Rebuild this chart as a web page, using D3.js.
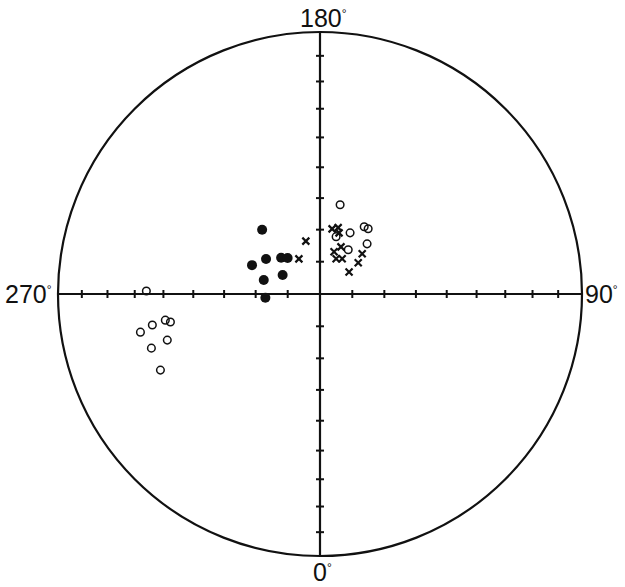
<!DOCTYPE html>
<meta charset="utf-8">
<script src="https://d3js.org/d3.v7.min.js"></script>
<style>
  body { margin: 0; background: #fff; }
  text { font-family: "Liberation Sans", Arial, sans-serif; fill: #111; }
</style>
<div id="my_dataviz"></div>
<script>

  // points as [declination, inclination] in degrees (equal-area net)
  const filledDots = [
    [222, 63], [237, 70], [247, 67], [227, 73.5],
    [222, 75], [256, 72], [243, 77], [274, 73]
  ];
  const crosses = [
    [195, 73], [211, 77.3], [169.5, 69.4], [164.7, 68.6],
    [162.7, 70.1], [156, 74], [161.6, 76.2], [155.4, 78],
    [147.8, 77.1], [133.6, 71.9], [129.2, 74.7], [127.2, 78.7]
  ];
  const openCircles = [
    [167.3, 61.4], [153.8, 68.8], [146.7, 64.9], [143.6, 64.7],
    [136.8, 68.6], [164.3, 71.5], [147.5, 73.7],
    [269, 34.1], [282, 30.6], [280.5, 35.2], [279.6, 39.9],
    [280.6, 41.5], [286.8, 39], [287.8, 32.9], [295.5, 33]
  ];

  const axisDecs = [0, 90, 180, 270];
  const tickIncs = [10, 20, 30, 40, 50, 60, 70, 80];
  const axisLabels = ["0", "90", "180", "270"];

  const width = 625, height = 587;
  const cx = 320, cy = 294, R = 262;

  const svg = d3.select("#my_dataviz")
    .append("svg")
    .attr("width", width)
    .attr("height", height);

  // lower hemisphere equal-area projection, 0 at bottom, 90 at right
  const proj = d3.geoAzimuthalEqualArea()
    .rotate([0, -90])
    .scale(R / Math.SQRT2)
    .translate([cx, cy]);

  // primitive circle
  svg.append("circle")
    .attr("cx", cx).attr("cy", cy).attr("r", R)
    .attr("fill", "none")
    .attr("stroke", "#111")
    .attr("stroke-width", 2.2);

  // the two diameters
  [0, 90].forEach(function(d) {
    const a = proj([d, 0.0001]), b = proj([d + 180, 0.0001]);
    svg.append("line")
      .attr("x1", a[0]).attr("y1", a[1])
      .attr("x2", b[0]).attr("y2", b[1])
      .attr("stroke", "#111")
      .attr("stroke-width", 2.2);
  });

  // 10 degree ticks along the diameters
  const tickData = [];
  axisDecs.forEach(d => tickIncs.forEach(i => tickData.push([d, i])));
  svg.append("g")
    .selectAll("line")
    .data(tickData)
    .join("line")
    .each(function(d) {
      const p = proj(d);
      const vertical = (d[0] === 90 || d[0] === 270); // tick across horizontal axis
      d3.select(this)
        .attr("x1", vertical ? p[0] : p[0] - 4)
        .attr("x2", vertical ? p[0] : p[0] + 4)
        .attr("y1", vertical ? p[1] - 4 : p[1])
        .attr("y2", vertical ? p[1] + 4 : p[1]);
    })
    .attr("stroke", "#111")
    .attr("stroke-width", 2);

  // labels
  const labelPos = [
    {x: 313, y: 581, anchor: "start"},
    {x: 585, y: 303, anchor: "start"},
    {x: 300, y: 27, anchor: "start"},
    {x: 5, y: 303, anchor: "start"}
  ];
  axisLabels.forEach(function(t, k) {
    const txt = svg.append("text")
      .attr("x", labelPos[k].x)
      .attr("y", labelPos[k].y)
      .attr("text-anchor", labelPos[k].anchor)
      .style("font-size", "25px");
    txt.append("tspan").text(t);
    txt.append("tspan").text("°")
      .style("font-size", "12px")
      .attr("dy", -9);
  });

  // open circles
  svg.append("g")
    .selectAll("circle")
    .data(openCircles)
    .join("circle")
    .attr("cx", d => proj(d)[0])
    .attr("cy", d => proj(d)[1])
    .attr("r", 3.8)
    .attr("fill", "none")
    .attr("stroke", "#111")
    .attr("stroke-width", 1.5);

  // filled dots
  svg.append("g")
    .selectAll("circle")
    .data(filledDots)
    .join("circle")
    .attr("cx", d => proj(d)[0])
    .attr("cy", d => proj(d)[1])
    .attr("r", 5)
    .attr("fill", "#111");

  // crosses
  svg.append("g")
    .selectAll("path")
    .data(crosses)
    .join("path")
    .attr("d", function(d) {
      const p = proj(d), s = 3.5;
      return `M${p[0]-s},${p[1]-s}L${p[0]+s},${p[1]+s}M${p[0]+s},${p[1]-s}L${p[0]-s},${p[1]+s}`;
    })
    .attr("stroke", "#111")
    .attr("stroke-width", 2.2);

</script>
